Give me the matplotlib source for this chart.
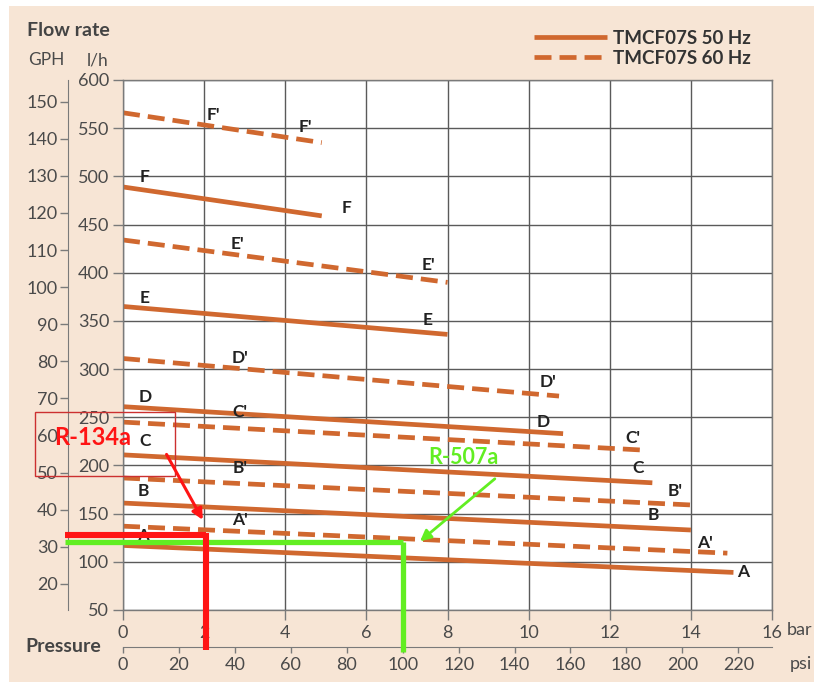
import numpy as np
import matplotlib
matplotlib.use("Agg")
import matplotlib.pyplot as plt
from matplotlib.lines import Line2D
from matplotlib.patches import Rectangle

plt.rcParams["font.family"] = ["Lato", "DejaVu Sans"]

# =========================
# DATA (bar, l/h)
# =========================
curves = ["A", "B", "C", "D", "E", "F"]
p_end_50 = [15.05, 14.0, 13.05, 10.85, 8.0, 4.9]
q_start_50 = [117, 161, 211, 261, 365, 489]
q_end_50 = [89, 133, 182, 233, 336, 459]

p_end_60 = [14.9, 14.0, 12.8, 10.75, 8.0, 4.9]
q_start_60 = [137, 187, 245, 311, 434, 566]
q_end_60 = [109, 159, 216, 272, 390, 535]

# label positions (start label, end label)
lab50_start = [(0.49, 127), (0.49, 173), (0.54, 225), (0.54, 271), (0.54, 374), (0.54, 499)]
lab50_end = [(15.29, 89), (13.07, 149), (12.7, 197), (10.36, 245), (7.52, 351), (5.52, 467)]
lab60_start = [(2.88, 143), (2.88, 197), (2.88, 255), (2.88, 312), (2.81, 430), (2.22, 564)]
lab60_end = [(14.35, 120), (13.6, 174), (12.57, 228), (10.48, 287), (7.52, 408), (4.49, 551)]

bar_ticks = np.arange(0, 17, 2)
lh_ticks = np.arange(50, 601, 50)
gph_ticks = np.arange(20, 151, 10)
psi_ticks = np.arange(0, 221, 20)

LH_PER_GPH = 3.85
PSI_PER_BAR = 14.5038

# operating points marked on the chart (bar, l/h)
r134a_point = (2.05, 128)
r507a_point = (6.9, 120.5)

orange = "#d0682f"
grid_c = "#5a5a5a"
txt_c = "#4a4a4a"
peach = "#f7e5d5"

# =========================
# FIGURE
# =========================
fig = plt.figure(figsize=(8.14, 6.94), dpi=100, facecolor="white")
fig.patches.append(Rectangle((9 / 814, 12 / 694), 1, 1 - 18 / 694,
                             transform=fig.transFigure, facecolor=peach,
                             edgecolor="none", zorder=-10))

ax = fig.add_axes([123 / 814, 1 - 610 / 694, 649 / 814, 530 / 694])
ax.set_facecolor("white")
ax.set_xlim(0, 16)
ax.set_ylim(50, 600)
ax.set_xticks(bar_ticks)
ax.set_yticks(lh_ticks)
ax.grid(True, color=grid_c, lw=1.0)
ax.set_axisbelow(True)
for s in ax.spines.values():
    s.set_color("#7a7a7a")
    s.set_linewidth(1.0)
ax.tick_params(colors="#7a7a7a", labelcolor=txt_c, labelsize=13, length=7, width=1)
ax.tick_params(axis="x", pad=4)
ax.tick_params(axis="y", pad=3)

# curves
lw = 3.4
for i in range(len(curves)):
    ax.plot([0, p_end_50[i]], [q_start_50[i], q_end_50[i]], color=orange, lw=lw,
            solid_capstyle="butt")
    ax.plot([0, p_end_60[i]], [q_start_60[i], q_end_60[i]], color=orange, lw=lw,
            linestyle=(0, (3.6, 1.7)), dash_capstyle="butt")
    for (x, y) in [lab50_start[i], lab50_end[i]]:
        ax.text(x, y, curves[i], ha="center", va="center", fontsize=12.5,
                fontweight="bold", color="#222222")
    for (x, y) in [lab60_start[i], lab60_end[i]]:
        ax.text(x, y, curves[i] + "'", ha="center", va="center", fontsize=12.5,
                fontweight="bold", color="#222222")

# GPH axis
gax = ax.secondary_yaxis(-0.085, functions=(lambda v: v / LH_PER_GPH, lambda v: v * LH_PER_GPH))
gax.set_yticks(gph_ticks)
gax.spines["left"].set_color("#7a7a7a")
gax.tick_params(colors="#7a7a7a", labelcolor=txt_c, labelsize=13, length=6, width=1, pad=1)

# psi axis
pax = ax.secondary_xaxis(-0.07, functions=(lambda b: b * PSI_PER_BAR, lambda p: p / PSI_PER_BAR))
pax.set_xticks(psi_ticks)
pax.spines["bottom"].set_color("#7a7a7a")
pax.tick_params(colors="#7a7a7a", labelcolor=txt_c, labelsize=13, length=4, width=1, pad=3)

# axis titles
fig.text(27 / 814, 1 - 30 / 694, "Flow rate", fontsize=14, fontweight="bold",
         color="#444444", ha="left", va="center")
fig.text(28 / 814, 1 - 60 / 694, "GPH", fontsize=12.5, color=txt_c, ha="left", va="center")
fig.text(87 / 814, 1 - 60 / 694, "l/h", fontsize=12.5, color=txt_c, ha="left", va="center")
fig.text(25 / 814, 1 - 647 / 694, "Pressure", fontsize=14, fontweight="bold",
         color="#444444", ha="left", va="center")
fig.text(787 / 814, 1 - 630 / 694, "bar", fontsize=13, color=txt_c, ha="left", va="center")
fig.text(790 / 814, 1 - 664 / 694, "psi", fontsize=13, color=txt_c, ha="left", va="center")

# legend
handles = [Line2D([], [], color=orange, lw=lw, solid_capstyle="butt"),
           Line2D([], [], color=orange, lw=lw, linestyle=(0, (3.6, 1.7)))]
leg = ax.legend(handles, ["TMCF07S 50 Hz", "TMCF07S 60 Hz"], loc="upper left",
                bbox_to_anchor=(534 / 814, 1 - 30 / 694), bbox_transform=fig.transFigure,
                frameon=False, handlelength=3.9, handletextpad=0.3, labelspacing=0.15,
                borderpad=0, borderaxespad=0,
                prop={"weight": "bold", "size": 13.5})
for t in leg.get_texts():
    t.set_color("#333333")

# =========================
# ANNOTATIONS
# =========================
red = "#ff1414"
green = "#62ee22"
x0 = -1.43
rx, ry = r134a_point
gx, gy = r507a_point
ax.plot([x0, gx], [gy, gy], color=green, lw=3.8, clip_on=False, zorder=5,
        solid_capstyle="butt")
ax.plot([gx, gx], [gy, 6.4], color=green, lw=3.8, clip_on=False, zorder=5,
        solid_capstyle="butt")
ax.plot([x0, rx], [ry, ry], color=red, lw=4.4, clip_on=False, zorder=6,
        solid_capstyle="butt")
ax.plot([rx, rx], [ry + 2, 8.5], color=red, lw=4.4, clip_on=False, zorder=6,
        solid_capstyle="butt")

ax.add_patch(Rectangle((-2.17, 189), 3.45, 66.5, fill=False, edgecolor="#cc3030",
                       lw=1.0, clip_on=False, zorder=6))
ax.text(-0.76, 229.5, "R-134a", color=red, fontsize=17, fontweight="bold",
        ha="center", va="center", zorder=7, clip_on=False)
ax.annotate("", xy=(2.0, 141), xytext=(1.04, 214),
            arrowprops=dict(arrowstyle="-|>", color=red, lw=2.2, mutation_scale=16),
            zorder=7)

ax.text(8.38, 208, "R-507a", color=green, fontsize=15.5, fontweight="bold",
        ha="center", va="center", zorder=7)
ax.annotate("", xy=(7.27, 119.5), xytext=(9.22, 188),
            arrowprops=dict(arrowstyle="-|>", color=green, lw=2.0, mutation_scale=16),
            zorder=7)

fig.savefig("out.png", dpi=100)
